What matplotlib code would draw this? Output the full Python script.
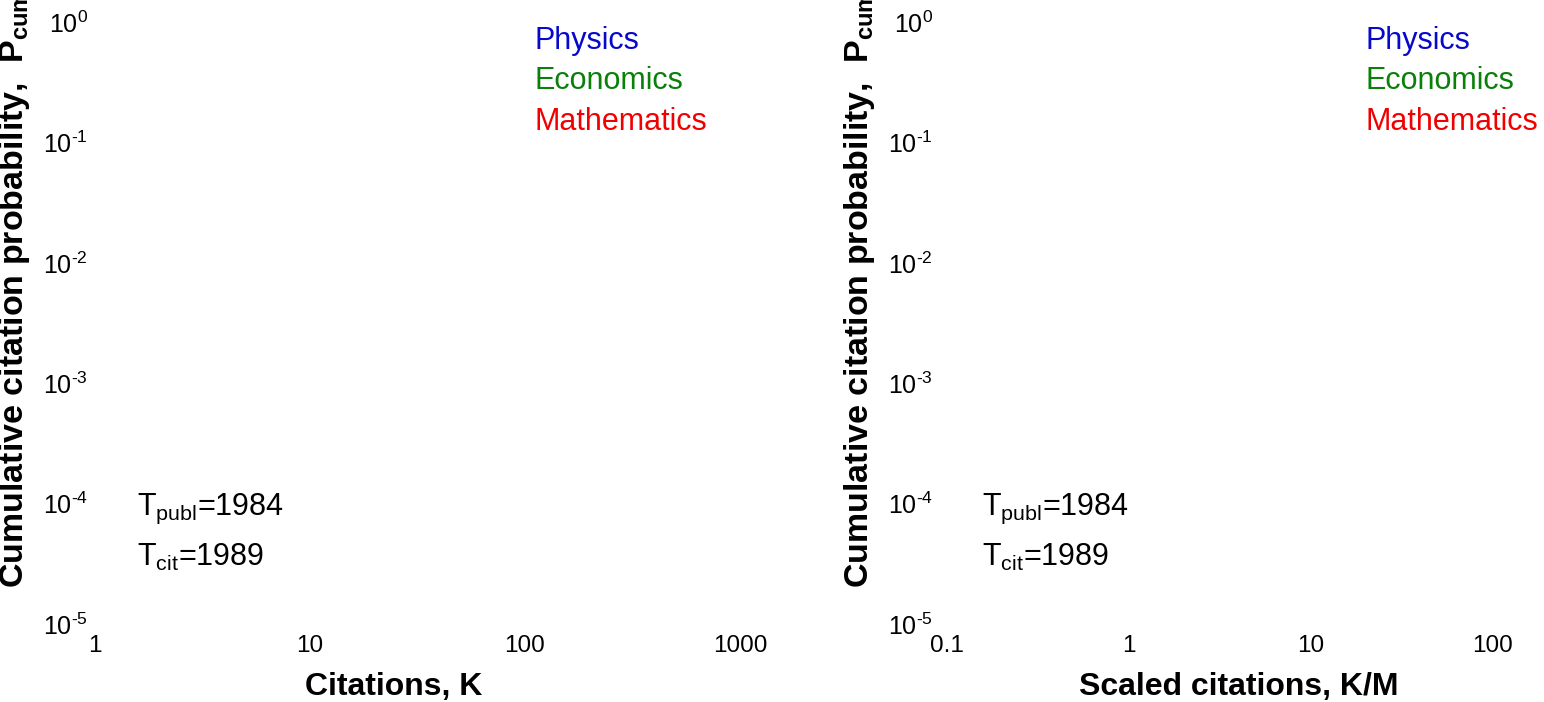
import matplotlib
matplotlib.use("Agg")
import matplotlib.pyplot as plt
from matplotlib.ticker import FixedLocator, FixedFormatter, NullLocator

plt.rcParams['font.family'] = ['Liberation Sans', 'DejaVu Sans']
plt.rcParams['mathtext.fontset'] = 'custom'
plt.rcParams['mathtext.rm'] = 'Liberation Sans'
plt.rcParams['mathtext.it'] = 'Liberation Sans:italic'
plt.rcParams['mathtext.bf'] = 'Liberation Sans:bold'
plt.rcParams['axes.unicode_minus'] = False

# データ (グラフ中に系列は描かれていない、ラベルのみ)
fields = ["Physics", "Economics", "Mathematics"]
field_colors = ["#0808CC", "#0A800A", "#F00000"]

yticks = [1e-5, 1e-4, 1e-3, 1e-2, 1e-1, 1e0]
ytick_labels = [r"$10^{\text{-5}}$", r"$10^{\text{-4}}$", r"$10^{\text{-3}}$",
                r"$10^{\text{-2}}$", r"$10^{\text{-1}}$", r"$10^{\text{0}}$"]

xticks_raw = [1, 10, 100, 1000]
xtick_labels_raw = ["1", "10", "100", "1000"]
xticks_scaled = [0.1, 1, 10, 100]
xtick_labels_scaled = ["0.1", "1", "10", "100"]

t_publ = 1984
t_cit = 1989

ylabel = r"Cumulative citation probability,  P$_{\mathbf{cum}}$"


def setup_axes(ax, xticks, xlabels, xlabel, ypad, xlab_x, ylab_x):
    """対数軸の設定 (枠線・目盛り線なし)"""
    ax.set_xscale("log")
    ax.set_yscale("log")
    ax.set_xlim(xticks[0], xticks[-1])
    ax.set_ylim(yticks[0], yticks[-1])
    for s in ax.spines.values():
        s.set_visible(False)
    ax.xaxis.set_major_locator(FixedLocator(xticks))
    ax.xaxis.set_major_formatter(FixedFormatter(xlabels))
    ax.yaxis.set_major_locator(FixedLocator(yticks))
    ax.yaxis.set_major_formatter(FixedFormatter(ytick_labels))
    ax.xaxis.set_minor_locator(NullLocator())
    ax.yaxis.set_minor_locator(NullLocator())
    ax.tick_params(axis="x", length=0, pad=8, labelsize=17.5)
    ax.tick_params(axis="y", length=0, pad=ypad, labelsize=18)
    ax.set_xlabel(xlabel, fontsize=23, fontweight="bold")
    ax.xaxis.set_label_coords(xlab_x, -0.08)
    ax.set_ylabel(ylabel, fontsize=24.5, fontweight="bold", loc="bottom")
    ax.yaxis.set_label_coords(ylab_x, 0.06)


def annotate(ax, fx):
    for i, (name, c) in enumerate(zip(fields, field_colors)):
        ax.text(fx, 0.955 - 0.067 * i, name, color=c, fontsize=22,
                transform=ax.transAxes, va="baseline", ha="left")
    ax.text(0.065, 0.181, r"T$_{\rm publ}$=%d" % t_publ, fontsize=22,
            transform=ax.transAxes, va="baseline", ha="left")
    ax.text(0.065, 0.096, r"T$_{\rm cit}$=%d" % t_cit, fontsize=22,
            transform=ax.transAxes, va="baseline", ha="left")


fig = plt.figure(figsize=(15.44, 7.02), dpi=100)
ax1 = fig.add_axes([95 / 1544, 78 / 702, 645 / 1544, 602 / 702])
ax2 = fig.add_axes([947 / 1544, 78 / 702, 546 / 1544, 602 / 702])

setup_axes(ax1, xticks_raw, xtick_labels_raw, "Citations, K", 5, 0.4636, -0.097)
setup_axes(ax2, xticks_scaled, xtick_labels_scaled, "Scaled citations, K/M", 10, 0.535, -0.128)
annotate(ax1, 0.682)
annotate(ax2, 0.766)

fig.savefig("out.png", dpi=100)
